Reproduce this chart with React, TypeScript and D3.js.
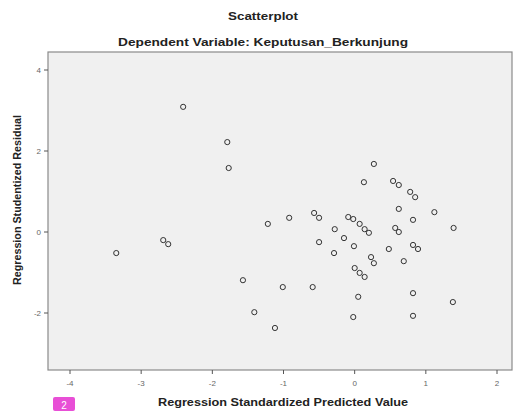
import React from "react";
import * as d3 from "d3";

// predicted value (x) and studentized residual (y)
const predicted = [
  -2.41, -1.79, -1.77, -3.35, -2.69, -2.62, -1.22, -1.57, -1.41, -1.12,
  -1.01, -0.59, -0.92, -0.57, -0.5, -0.09, -0.02, 0.07, 0.14, 0.2,
  -0.28, -0.5, -0.15, -0.01, -0.29, 0.23, 0.27, 0.0, 0.07, 0.14,
  0.27, 0.13, 0.54, 0.62, 0.78, 0.85, 0.62, 1.12, 0.82, 1.39,
  0.57, 0.62, 0.48, 0.82, 0.89, 0.69, 0.05, 0.82, 1.38, -0.02, 0.82
];
const residual = [
  3.09, 2.22, 1.58, -0.52, -0.2, -0.3, 0.2, -1.19, -1.98, -2.37,
  -1.36, -1.36, 0.35, 0.47, 0.35, 0.37, 0.32, 0.2, 0.07, -0.02,
  0.07, -0.25, -0.15, -0.35, -0.52, -0.62, -0.77, -0.89, -1.01, -1.11,
  1.68, 1.23, 1.26, 1.16, 0.99, 0.86, 0.57, 0.49, 0.3, 0.1,
  0.1, 0.0, -0.42, -0.32, -0.42, -0.72, -1.6, -1.51, -1.73, -2.1, -2.07
];
const xTicks = [-4, -3, -2, -1, 0, 1, 2];
const yTicks = [4, 2, 0, -2];

const W = 514, H = 411;
const box = { left: 48, right: 512, top: 52, bottom: 370 };
const font = "'Liberation Sans', Arial, sans-serif";

export default function App() {
  const x = d3.scaleLinear().domain([-4, 2]).range([70, 497]);
  const y = d3.scaleLinear().domain([-2, 4]).range([313, 70]);
  const pts = predicted.map((v, i) => [v, residual[i]]);

  return (
    <svg width={W} height={H} style={{ position: "absolute", left: 0, top: 0, background: "#fff" }}>
      <text x={263} y={20} textAnchor="middle" fontFamily={font} fontWeight="bold" fontSize={10.5}
        fill="#222" textLength={70} lengthAdjust="spacingAndGlyphs">Scatterplot</text>
      <text x={263} y={46} textAnchor="middle" fontFamily={font} fontWeight="bold" fontSize={11}
        fill="#222" textLength={290} lengthAdjust="spacingAndGlyphs">Dependent Variable: Keputusan_Berkunjung</text>

      <rect x={box.left} y={box.top} width={box.right - box.left} height={box.bottom - box.top}
        fill="#f0f0f0" stroke="#8a8a8a" strokeWidth={1.2} />

      {xTicks.map(t => (
        <g key={"x" + t}>
          <line x1={x(t)} x2={x(t)} y1={box.bottom} y2={box.bottom + 4} stroke="#555" />
          <text x={x(t)} y={386} textAnchor="middle" fontFamily={font} fontSize={8} fill="#666">{t}</text>
        </g>
      ))}
      {yTicks.map(t => (
        <g key={"y" + t}>
          <line x1={box.left - 4} x2={box.left} y1={y(t)} y2={y(t)} stroke="#555" />
          <text x={41} y={y(t) + 3} textAnchor="end" fontFamily={font} fontSize={8} fill="#666">{t}</text>
        </g>
      ))}

      {pts.map((p, i) => (
        <circle key={i} cx={x(p[0])} cy={y(p[1])} r={2.6} fill="none" stroke="#333" strokeWidth={1} />
      ))}

      <text x={283} y={406} textAnchor="middle" fontFamily={font} fontWeight="bold" fontSize={10}
        fill="#222" textLength={250} lengthAdjust="spacingAndGlyphs">Regression Standardized Predicted Value</text>
      <text transform="translate(21,200) rotate(-90)" textAnchor="middle" fontFamily={font} fontWeight="bold"
        fontSize={10} fill="#222" textLength={170} lengthAdjust="spacingAndGlyphs">Regression Studentized Residual</text>

      <rect x={53} y={397} width={22} height={14} rx={2} fill="#e84fd6" />
      <text x={64} y={409} textAnchor="middle" fontFamily={font} fontSize={10} fill="#fff">2</text>
    </svg>
  );
}
